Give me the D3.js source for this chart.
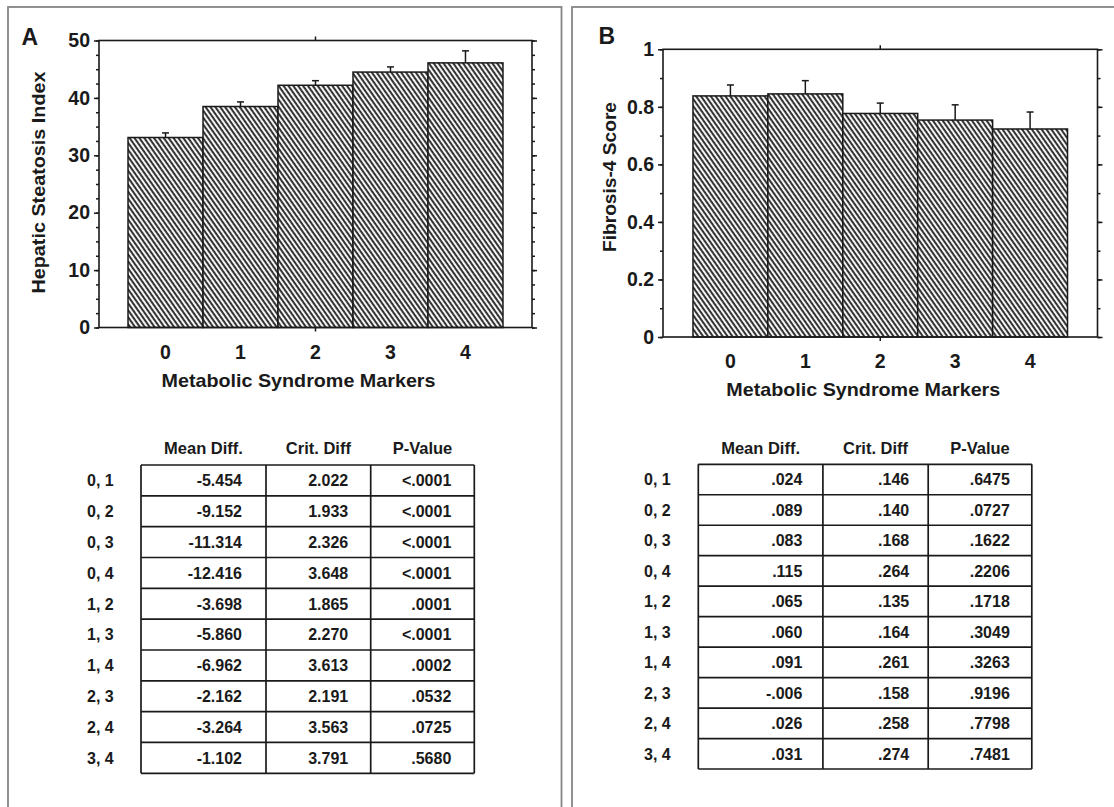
<!DOCTYPE html>
<html>
<head>
<meta charset="utf-8">
<script src="https://cdn.jsdelivr.net/npm/d3@7"></script>
<style>
body { margin: 0; background: #fff; }
svg { display: block; font-family: "Liberation Sans", Arial, sans-serif; }
</style>
</head>
<body>
<svg id="fig" width="1114" height="807"></svg>
<script>
// chart values
var markers = ["0", "1", "2", "3", "4"];

var hsiMean = [33.1, 38.5, 42.2, 44.5, 46.1];
var hsiErr = [0.8, 0.8, 0.8, 0.9, 2.1];
var hsiTicks = [0, 10, 20, 30, 40, 50];

var fibMean = [0.838, 0.845, 0.777, 0.754, 0.723];
var fibErr = [0.038, 0.046, 0.036, 0.053, 0.059];
var fibTicks = [0, 0.2, 0.4, 0.6, 0.8, 1];

var pairs = ["0, 1", "0, 2", "0, 3", "0, 4", "1, 2", "1, 3", "1, 4", "2, 3", "2, 4", "3, 4"];
var colHeads = ["Mean Diff.", "Crit. Diff", "P-Value"];

var hsiMeanDiff = ["-5.454", "-9.152", "-11.314", "-12.416", "-3.698", "-5.860", "-6.962", "-2.162", "-3.264", "-1.102"];
var hsiCritDiff = ["2.022", "1.933", "2.326", "3.648", "1.865", "2.270", "3.613", "2.191", "3.563", "3.791"];
var hsiP = ["<.0001", "<.0001", "<.0001", "<.0001", ".0001", "<.0001", ".0002", ".0532", ".0725", ".5680"];

var fibMeanDiff = [".024", ".089", ".083", ".115", ".065", ".060", ".091", "-.006", ".026", ".031"];
var fibCritDiff = [".146", ".140", ".168", ".264", ".135", ".164", ".261", ".158", ".258", ".274"];
var fibP = [".6475", ".0727", ".1622", ".2206", ".1718", ".3049", ".3263", ".9196", ".7798", ".7481"];

var INK = "#1a1a1a";
var svg = d3.select("#fig");

// diagonal hatch used by every bar
svg.append("defs").append("pattern")
	.attr("id", "hatch")
	.attr("patternUnits", "userSpaceOnUse")
	.attr("width", 4).attr("height", 4)
	.attr("patternTransform", "rotate(55)")
	.call(function(p) {
		p.append("rect").attr("width", 4).attr("height", 4).attr("fill", "#f4f4f4");
		p.append("rect").attr("width", 4).attr("height", 1.9).attr("fill", "#2b2b2b");
	});

function panel(o) {
	var g = svg.append("g");

	// panel frame (runs off the picture at the bottom / right)
	g.append("rect")
		.attr("x", o.frame[0]).attr("y", o.frame[1])
		.attr("width", o.frame[2]).attr("height", 900)
		.attr("fill", "none").attr("stroke", "#858585").attr("stroke-width", 1.8);

	g.append("text")
		.attr("x", o.letterX).attr("y", o.letterY)
		.attr("font-size", 23).attr("font-weight", "bold").attr("fill", INK)
		.text(o.letter);

	var x = d3.scaleBand().domain(markers)
		.range([o.left, o.right]).paddingInner(0).paddingOuter(o.outer);
	var y = d3.scaleLinear().domain([0, o.max]).range([o.bottom, o.top]);

	var data = markers.map(function(m, i) { return {m: m, v: o.mean[i], e: o.err[i]}; });

	// bars
	g.selectAll(".bar").data(data).enter().append("rect")
		.attr("class", "bar")
		.attr("x", function(d) { return x(d.m); })
		.attr("y", function(d) { return y(d.v); })
		.attr("width", x.bandwidth())
		.attr("height", function(d) { return y(0) - y(d.v); })
		.attr("fill", "url(#hatch)")
		.attr("stroke", INK).attr("stroke-width", 1.5);

	// error bars (upper only)
	var eb = g.selectAll(".err").data(data).enter().append("g").attr("class", "err")
		.attr("stroke", INK).attr("stroke-width", 1.5);
	eb.append("line")
		.attr("x1", function(d) { return x(d.m) + x.bandwidth() / 2; })
		.attr("x2", function(d) { return x(d.m) + x.bandwidth() / 2; })
		.attr("y1", function(d) { return y(d.v); })
		.attr("y2", function(d) { return y(d.v + d.e); });
	eb.append("line")
		.attr("x1", function(d) { return x(d.m) + x.bandwidth() / 2 - 3.5; })
		.attr("x2", function(d) { return x(d.m) + x.bandwidth() / 2 + 3.5; })
		.attr("y1", function(d) { return y(d.v + d.e); })
		.attr("y2", function(d) { return y(d.v + d.e); });

	// plot box
	g.append("rect")
		.attr("x", o.left).attr("y", o.top)
		.attr("width", o.right - o.left).attr("height", o.bottom - o.top)
		.attr("fill", "none").attr("stroke", INK).attr("stroke-width", 1.6);

	var minor = d3.range(0, o.max + o.minor / 2, o.minor);

	function clean(sel) {
		sel.select(".domain").remove();
		sel.attr("font-size", null).attr("font-family", null);
		sel.selectAll(".tick line").attr("stroke", INK).attr("stroke-width", 1.5);
		sel.selectAll(".tick text").attr("fill", INK).attr("font-size", 19.5).attr("font-weight", "bold");
	}

	g.append("g").attr("transform", "translate(" + o.left + ",0)")
		.call(d3.axisLeft(y).tickValues(minor).tickSize(3).tickFormat(""))
		.call(clean);
	g.append("g").attr("transform", "translate(" + o.left + ",0)")
		.call(d3.axisLeft(y).tickValues(o.ticks).tickSize(5).tickPadding(4).tickFormat(o.fmt))
		.call(clean);
	g.append("g").attr("transform", "translate(" + o.right + ",0)")
		.call(d3.axisRight(y).tickValues(minor).tickSize(3).tickFormat(""))
		.call(clean);
	g.append("g").attr("transform", "translate(" + o.right + ",0)")
		.call(d3.axisRight(y).tickValues(o.ticks).tickSize(5).tickFormat(""))
		.call(clean);

	// single centre tick on top and bottom
	g.append("g").attr("transform", "translate(0," + o.bottom + ")")
		.call(d3.axisBottom(x).tickValues(["2"]).tickSize(4).tickFormat(""))
		.call(clean);
	g.append("g").attr("transform", "translate(0," + o.top + ")")
		.call(d3.axisTop(x).tickValues(["2"]).tickSize(4).tickFormat(""))
		.call(clean);

	// category labels
	g.append("g").attr("transform", "translate(0," + o.bottom + ")")
		.call(d3.axisBottom(x).tickSize(0).tickPadding(17.5))
		.call(clean);

	var mid = (o.left + o.right) / 2;
	g.append("text")
		.attr("x", mid - 17).attr("y", o.bottom + 59)
		.attr("text-anchor", "middle")
		.attr("font-size", 19).attr("font-weight", "bold").attr("fill", INK)
		.attr("textLength", 274).attr("lengthAdjust", "spacingAndGlyphs")
		.text("Metabolic Syndrome Markers");

	g.append("text")
		.attr("transform", "translate(" + o.ytX + "," + o.ytY + ") rotate(-90)")
		.attr("text-anchor", "middle")
		.attr("font-size", 19).attr("font-weight", "bold").attr("fill", INK)
		.attr("textLength", o.ytLen).attr("lengthAdjust", "spacingAndGlyphs")
		.text(o.ytitle);

	// comparison table
	var t = o.table;
	var rowH = t.rowH;
	var tg = g.append("g");
	var cols = [t.meanDiff, t.critDiff, t.p];

	tg.selectAll(".head").data(colHeads).enter().append("text")
		.attr("x", function(d, i) { return (t.cols[i] + t.cols[i + 1]) / 2; })
		.attr("y", 454)
		.attr("text-anchor", "middle")
		.attr("font-size", 16.5).attr("font-weight", "bold").attr("fill", INK)
		.text(function(d) { return d; });

	tg.selectAll(".pair").data(pairs).enter().append("text")
		.attr("x", t.labelX)
		.attr("y", function(d, i) { return t.top + rowH * (i + 0.5) + 5.8; })
		.attr("font-size", 16).attr("font-weight", "bold").attr("fill", INK)
		.text(function(d) { return d; });

	cols.forEach(function(vals, c) {
		tg.selectAll(".c" + c).data(vals).enter().append("text")
			.attr("x", t.cols[c + 1] - t.pad[c])
			.attr("y", function(d, i) { return t.top + rowH * (i + 0.5) + 5.8; })
			.attr("text-anchor", "end")
			.attr("font-size", 16).attr("font-weight", "bold").attr("fill", INK)
			.text(function(d) { return d; });
	});

	var lines = tg.append("g").attr("stroke", INK).attr("stroke-width", 1.7);
	d3.range(pairs.length + 1).forEach(function(i) {
		lines.append("line")
			.attr("x1", t.cols[0]).attr("x2", t.cols[3])
			.attr("y1", t.top + rowH * i).attr("y2", t.top + rowH * i);
	});
	t.cols.forEach(function(cx) {
		lines.append("line")
			.attr("x1", cx).attr("x2", cx)
			.attr("y1", t.top).attr("y2", t.top + rowH * pairs.length);
	});
}

panel({
	letter: "A", letterX: 21.5, letterY: 45,
	frame: [8, 7, 553.5],
	left: 99, right: 532, top: 40.5, bottom: 327.5, outer: 0.387,
	max: 50, minor: 2.5, ticks: hsiTicks, fmt: d3.format("d"),
	mean: hsiMean, err: hsiErr,
	ytitle: "Hepatic Steatosis Index", ytX: 45, ytY: 182.5, ytLen: 222,
	table: {
		cols: [141, 266, 370.7, 474.3], top: 465, rowH: 30.83, labelX: 87,
		pad: [24, 22.5, 23],
		meanDiff: hsiMeanDiff, critDiff: hsiCritDiff, p: hsiP
	}
});

panel({
	letter: "B", letterX: 598.5, letterY: 43.5,
	frame: [572, 7, 600],
	left: 663, right: 1097.5, top: 49.3, bottom: 337, outer: 0.4,
	max: 1, minor: 0.1, ticks: fibTicks,
	fmt: function(d) { return (d === 0 || d === 1) ? d3.format("d")(d) : d3.format(".1f")(d); },
	mean: fibMean, err: fibErr,
	ytitle: "Fibrosis-4  Score", ytX: 616, ytY: 177, ytLen: 150,
	table: {
		cols: [698.3, 822.9, 928.2, 1031.8], top: 464.3, rowH: 30.47, labelX: 644,
		pad: [20.5, 19, 22],
		meanDiff: fibMeanDiff, critDiff: fibCritDiff, p: fibP
	}
});
</script>
</body>
</html>
